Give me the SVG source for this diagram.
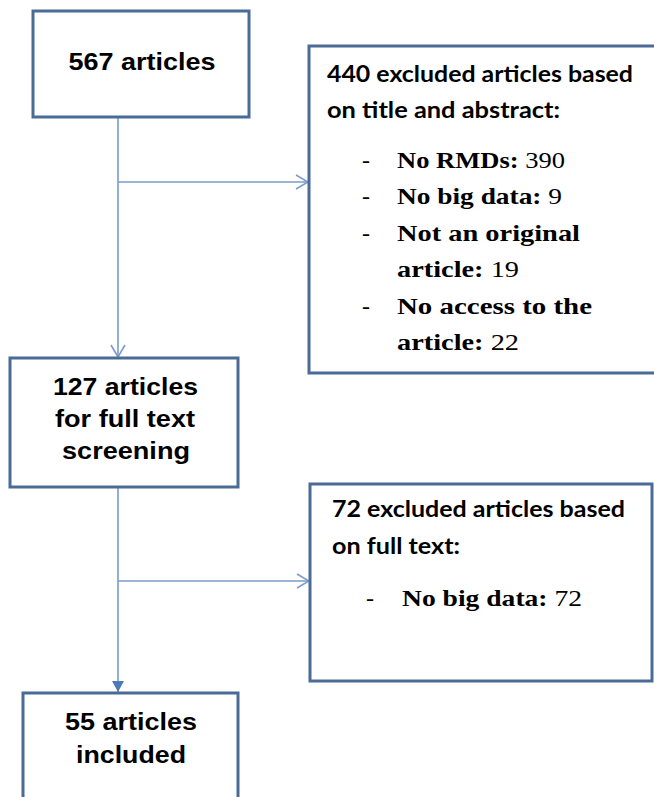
<svg xmlns="http://www.w3.org/2000/svg" width="654" height="797" viewBox="0 0 654 797">
  <style>
    .box { fill: #ffffff; stroke: #4a6b95; stroke-width: 3; }
    .conn { fill: none; stroke: #7b9cc8; stroke-width: 1.6; }
    .sans { font-family: "Liberation Sans", Arial, sans-serif; font-weight: bold; font-size: 24px; fill: #000; }
    .hdr { font-family: Lato, "Open Sans", sans-serif; font-weight: bold; font-size: 23px; fill: #000; }
    .ser { font-family: "Liberation Serif", "DejaVu Serif", serif; font-size: 24px; fill: #000; }
    .b { font-weight: bold; }
  </style>
  <defs>
    <marker id="open" viewBox="0 0 14 16" markerUnits="userSpaceOnUse" markerWidth="14" markerHeight="16" refX="13" refY="8" orient="auto">
      <path d="M1,1 L13,8 L1,15" fill="none" stroke="#7b9cc8" stroke-width="1.6"/>
    </marker>
    <marker id="solid" viewBox="0 0 12 12" markerUnits="userSpaceOnUse" markerWidth="12" markerHeight="12" refX="11" refY="6" orient="auto">
      <path d="M0,0 L11,6 L0,12 Z" fill="#4a7ab8"/>
    </marker>
  </defs>

  <g id="connectors">
    <path class="conn" d="M118,117 L118,357" marker-end="url(#open)"/>
    <path class="conn" d="M118,182 L308,182" marker-end="url(#open)"/>
    <path class="conn" d="M118,487 L118,692" marker-end="url(#solid)"/>
    <path class="conn" d="M118,581 L309,581" marker-end="url(#open)"/>
  </g>

  <g id="node-567">
    <rect class="box" x="33" y="11" width="216" height="106"/>
    <text class="sans" x="142" y="70" text-anchor="middle" textLength="147" lengthAdjust="spacingAndGlyphs">567 articles</text>
  </g>

  <g id="node-excluded-440">
    <rect class="box" x="309" y="46" width="360" height="327"/>
    <text class="hdr" x="327" y="82" textLength="306" lengthAdjust="spacingAndGlyphs">440 excluded articles based</text>
    <text class="hdr" x="327" y="118" textLength="233" lengthAdjust="spacingAndGlyphs">on title and abstract:</text>
    <text class="ser" x="362" y="168">-</text>
    <text class="ser" x="397" y="168" textLength="168" lengthAdjust="spacingAndGlyphs"><tspan class="b">No RMDs:</tspan> 390</text>
    <text class="ser" x="362" y="204">-</text>
    <text class="ser" x="397" y="204" textLength="165" lengthAdjust="spacingAndGlyphs"><tspan class="b">No big data:</tspan> 9</text>
    <text class="ser" x="362" y="241">-</text>
    <text class="ser b" x="397" y="241" textLength="183" lengthAdjust="spacingAndGlyphs">Not an original</text>
    <text class="ser" x="397" y="277" textLength="122" lengthAdjust="spacingAndGlyphs"><tspan class="b">article:</tspan> 19</text>
    <text class="ser" x="362" y="314">-</text>
    <text class="ser b" x="397" y="314" textLength="195" lengthAdjust="spacingAndGlyphs">No access to the</text>
    <text class="ser" x="397" y="350" textLength="122" lengthAdjust="spacingAndGlyphs"><tspan class="b">article:</tspan> 22</text>
  </g>

  <g id="node-127">
    <rect class="box" x="10" y="358" width="228" height="129"/>
    <text class="sans" x="125.5" y="395" text-anchor="middle" textLength="145" lengthAdjust="spacingAndGlyphs">127 articles</text>
    <text class="sans" x="125" y="427" text-anchor="middle" textLength="140" lengthAdjust="spacingAndGlyphs">for full text</text>
    <text class="sans" x="126" y="459" text-anchor="middle" textLength="128" lengthAdjust="spacingAndGlyphs">screening</text>
  </g>

  <g id="node-excluded-72">
    <rect class="box" x="310" y="484" width="342" height="197"/>
    <text class="hdr" x="332" y="517" textLength="293" lengthAdjust="spacingAndGlyphs">72 excluded articles based</text>
    <text class="hdr" x="332" y="554" textLength="128" lengthAdjust="spacingAndGlyphs">on full text:</text>
    <text class="ser" x="366" y="606">-</text>
    <text class="ser" x="402" y="606" textLength="180" lengthAdjust="spacingAndGlyphs"><tspan class="b">No big data:</tspan> 72</text>
  </g>

  <g id="node-55">
    <rect class="box" x="23" y="693" width="215" height="130"/>
    <text class="sans" x="131" y="730" text-anchor="middle" textLength="132" lengthAdjust="spacingAndGlyphs">55 articles</text>
    <text class="sans" x="131" y="763" text-anchor="middle" textLength="110" lengthAdjust="spacingAndGlyphs">included</text>
  </g>
</svg>
